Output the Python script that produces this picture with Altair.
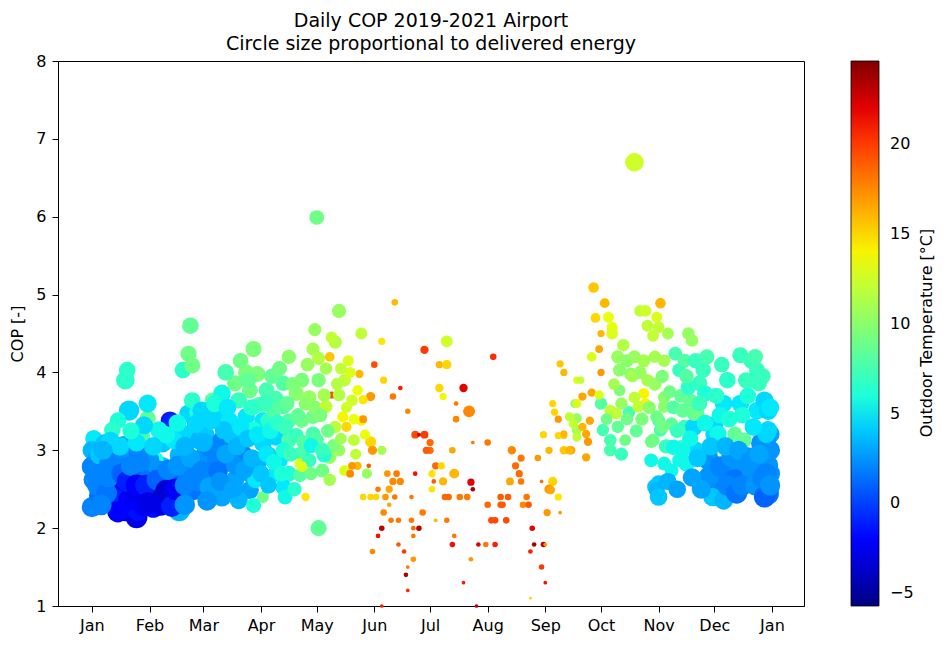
import altair as alt
import pandas as pd

# ---- data: (day of year, COP, outdoor temperature [°C], delivered energy [kWh]) ----
jan_feb = [
    (18, 3.90, 6.5, 40), (19, 4.03, 6.5, 32), (20, 3.51, 4.5, 48), (14, 3.38, 6.0, 32), (30, 3.41, 8.5, 30),
    (27, 3.19, 8.0, 30), (11, 3.26, 6.5, 32), (1, 3.15, 5.0, 34), (7, 3.09, 4.0, 40), (0, 3.00, 3.5, 40),
    (2, 2.87, 3.0, 42), (11, 3.02, 3.0, 42), (0, 2.79, 2.0, 48), (1, 2.62, 2.0, 48), (0, 2.27, 2.0, 48),
    (6, 2.74, 2.0, 48), (15, 2.87, 2.0, 48), (22, 2.91, 2.5, 48), (11, 2.62, -2.0, 52), (16, 2.49, -2.0, 52),
    (11, 2.36, -2.0, 52), (22, 2.70, 1.5, 48), (27, 2.62, 1.0, 48), (31, 2.74, 1.5, 48), (18, 2.23, -3.0, 55),
    (24, 2.14, -3.0, 55), (29, 2.44, -3.5, 55), (34, 2.49, -3.5, 55), (36, 2.40, -5.6, 56), (42, 2.40, -4.0, 55),
    (47, 2.44, -4.0, 55), (33, 2.27, -1.5, 52), (25, 2.23, -1.5, 52), (47, 2.23, 3.5, 55), (42, 3.38, -1.0, 40),
    (38, 3.09, 4.0, 40), (38, 2.79, 4.0, 42), (34, 2.87, 6.0, 34), (49, 3.21, 4.5, 40), (52, 3.47, 4.5, 40),
    (56, 3.30, 4.5, 38), (54, 3.64, 6.5, 32), (49, 4.03, 6.5, 32), (54, 4.09, 9.0, 30), (52, 4.24, 9.0, 30),
    (53, 4.60, 8.5, 32), (60, 2.91, 2.5, 44), (61, 2.66, 2.5, 44), (63, 2.44, 2.5, 44), (65, 3.64, 8.5, 30),
    (4, 2.42, 1.5, 50), (6, 2.55, 1.5, 50), (13, 2.36, -1.0, 52), (20, 2.36, -2.5, 54), (23, 2.49, -3.0, 55),
    (39, 2.55, -2.0, 54), (44, 2.62, 1.0, 50), (52, 2.68, 2.0, 48), (31, 2.87, 2.5, 44), (17, 3.06, 3.0, 42),
    (25, 2.97, 2.0, 44), (4, 2.94, 4.0, 40), (9, 2.81, 2.0, 46), (33, 2.36, -4.5, 56), (28, 2.29, -2.5, 54),
    (14, 2.21, -2.0, 52), (36, 2.74, 2.5, 46), (47, 2.94, 3.5, 42), (58, 3.13, 3.5, 42), (44, 3.13, 5.0, 38),
    (36, 3.26, 5.5, 36), (28, 3.32, 4.5, 38), (58, 2.74, 2.0, 46), (55, 2.49, 1.5, 48),
    (3, 2.55, 2.0, 50), (8, 2.45, 1.5, 50), (5, 2.30, 2.0, 50), (9, 2.65, 2.0, 48), (12, 2.90, 2.0, 46),
    (16, 2.70, 1.0, 50), (19, 2.60, -1.0, 52), (21, 2.80, 2.0, 48), (24, 2.55, -2.0, 54), (26, 2.85, 2.0, 46),
    (29, 2.55, -1.0, 52), (30, 2.32, -3.0, 55), (35, 2.62, 1.0, 50), (37, 2.30, -3.0, 55), (40, 2.48, -3.5, 55),
    (41, 2.75, 2.0, 48), (43, 2.28, -1.0, 52), (45, 2.50, -2.5, 54), (46, 2.80, 2.5, 46), (50, 2.55, 2.0, 48),
    (50, 2.30, 2.5, 48), (53, 2.90, 3.0, 44), (57, 2.60, 2.0, 46), (10, 3.12, 4.5, 40), (15, 3.05, 4.5, 40),
    (24, 3.10, 5.0, 38), (33, 3.05, 4.5, 40), (40, 3.20, 5.5, 36), (46, 3.35, 5.5, 36), (50, 3.05, 3.5, 42),
    (57, 3.48, 6.0, 34), (6, 3.00, 3.5, 42), (21, 3.25, 6.0, 34), (30, 3.60, 5.0, 38), (61, 3.20, 4.0, 40),
    (64, 2.62, 2.0, 44),
]

mar_apr = [
    (63, 3.04, 2.0, 42), (67, 2.87, 2.0, 42), (70, 3.13, 2.0, 42), (59, 2.74, 2.0, 44), (74, 2.87, 2.0, 42),
    (81, 2.96, 2.0, 40), (63, 2.53, 3.0, 42), (70, 2.40, 3.0, 42), (77, 2.62, 3.0, 40), (85, 2.70, 3.0, 38),
    (85, 2.49, 3.0, 38), (70, 3.73, 5.5, 36), (77, 3.86, 9.0, 30), (85, 3.77, 9.0, 30), (94, 3.77, 7.5, 30),
    (99, 3.66, 7.5, 30), (103, 3.86, 8.0, 28), (113, 3.90, 9.5, 26), (110, 3.73, 10.0, 26), (117, 3.68, 10.5, 24),
    (67, 3.43, 4.5, 38), (59, 3.51, 4.5, 38), (56, 3.34, 4.5, 38), (74, 3.38, 5.0, 36), (83, 3.43, 5.0, 36),
    (92, 3.38, 5.0, 34), (81, 3.17, 4.5, 36), (92, 3.09, 4.5, 36), (99, 3.17, 4.5, 34), (106, 3.13, 7.5, 28),
    (113, 2.96, 7.5, 28), (119, 3.21, 7.5, 26), (101, 2.87, 5.0, 32), (106, 2.70, 6.0, 28), (88, 2.62, 5.0, 32),
    (99, 2.70, 5.0, 32), (103, 2.53, 5.0, 30), (104, 2.40, 5.5, 26), (92, 2.40, 9.0, 17), (113, 3.38, 9.0, 24),
    (119, 3.43, 9.0, 24), (106, 3.38, 8.0, 26), (103, 3.56, 8.0, 26), (87, 4.30, 9.5, 30), (83, 4.00, 9.5, 30),
    (89, 3.98, 9.5, 30), (106, 4.20, 10.0, 24), (112, 2.83, 13.0, 14),
    (68, 2.74, 1.5, 44), (77, 2.81, 2.5, 40), (90, 2.87, 3.5, 36), (95, 2.94, 4.0, 34), (79, 2.36, 3.5, 38),
    (87, 2.29, 6.0, 26), (95, 2.55, 4.0, 32), (71, 3.26, 4.0, 38), (87, 3.26, 6.0, 32), (95, 3.38, 6.5, 30),
    (79, 3.64, 7.0, 32), (90, 3.58, 7.5, 30), (103, 3.00, 6.0, 28), (110, 3.19, 7.0, 26), (112, 2.68, 8.0, 22),
    (117, 2.87, 7.0, 24), (98, 3.51, 8.0, 28),
    (60, 3.10, 3.5, 42), (62, 2.35, 2.5, 44), (64, 3.38, 4.5, 38), (66, 3.60, 6.0, 34), (69, 2.60, 2.5, 42),
    (72, 2.95, 3.0, 40), (73, 3.55, 5.0, 36), (75, 3.20, 4.0, 38), (76, 2.50, 3.0, 40), (78, 3.05, 3.5, 38),
    (80, 3.30, 5.0, 36), (82, 2.75, 3.0, 38), (84, 3.15, 4.0, 36), (86, 3.55, 6.5, 32), (86, 2.90, 3.5, 36),
    (89, 3.20, 5.0, 34), (91, 2.70, 4.0, 34), (93, 3.60, 7.0, 30), (94, 2.95, 5.0, 32), (96, 3.25, 5.5, 32),
    (97, 3.95, 8.5, 28), (98, 2.85, 5.5, 30), (100, 3.35, 6.5, 30), (101, 4.05, 9.0, 26), (102, 2.70, 6.0, 28),
    (104, 3.30, 7.0, 28), (105, 3.60, 8.5, 26), (107, 2.95, 7.0, 26), (108, 3.85, 9.5, 24), (109, 2.50, 6.5, 24),
    (111, 3.45, 8.5, 24), (114, 3.10, 8.0, 24), (115, 3.60, 10.0, 22), (116, 4.10, 10.5, 22), (118, 2.70, 9.0, 20),
    (120, 3.55, 10.0, 22), (84, 3.90, 8.5, 30), (80, 4.15, 9.0, 28), (72, 4.00, 7.5, 32),
]

may = [
    (121, 5.99, 9.0, 25), (133, 4.79, 10.5, 23), (119, 4.30, 11.0, 20), (122, 4.18, 11.5, 20), (131, 4.39, 11.5, 20),
    (128, 4.20, 15.5, 11), (129, 3.71, 19.5, 6), (135, 3.43, 14.0, 14), (126, 3.56, 12.0, 20), (131, 3.30, 12.0, 18),
    (128, 2.91, 10.5, 20), (133, 3.00, 10.5, 18), (137, 3.30, 15.0, 12), (115, 2.40, 14.5, 8), (122, 2.00, 8.5, 30),
    (113, 2.79, 13.0, 14), (122, 3.90, 9.5, 24), (125, 3.71, 11.0, 20), (121, 3.13, 8.0, 24), (124, 2.74, 9.0, 22),
    (128, 2.62, 11.0, 18), (136, 2.74, 13.0, 14), (140, 3.64, 12.5, 16), (136, 3.90, 12.0, 18), (138, 4.15, 13.0, 14),
    (143, 3.77, 13.5, 13), (141, 3.13, 12.0, 16), (145, 3.38, 14.0, 12), (139, 2.70, 17.5, 7), (143, 2.80, 16.0, 8),
    (140, 2.80, 17.0, 7), (149, 2.80, 19.0, 2.5), (148, 2.70, 10.5, 12), (145, 4.50, 12.0, 16), (144, 3.98, 16.0, 8),
    (150, 3.69, 17.0, 10), (146, 3.40, 17.0, 7), (150, 3.11, 15.0, 14), (151, 3.00, 17.0, 10), (156, 3.00, 11.0, 10),
    (133, 3.71, 11.5, 18), (130, 3.06, 9.5, 20), (125, 2.94, 6.0, 26), (118, 3.06, 5.5, 26),
    (123, 3.45, 9.5, 22), (126, 4.05, 11.0, 18), (127, 3.25, 9.0, 22), (129, 4.45, 12.0, 16), (132, 3.85, 11.5, 18),
    (134, 3.15, 11.0, 16), (137, 3.55, 12.5, 14), (139, 4.00, 13.0, 14), (141, 3.40, 13.5, 13), (142, 2.95, 12.0, 14),
    (146, 3.65, 14.5, 10), (147, 3.20, 13.5, 12), (134, 4.05, 12.0, 16), (120, 4.55, 10.5, 20), (124, 3.00, 7.0, 26),
]

summer = [
    (152, 4.10, 19.5, 5), (156, 4.40, 14.5, 6), (163, 4.90, 16.0, 5), (179, 4.29, 20.0, 8), (191, 4.40, 12.5, 16),
    (216, 4.20, 20.5, 5), (187, 4.10, 16.0, 6), (191, 4.10, 15.0, 10), (157, 3.90, 15.0, 6), (166, 3.80, 21.0, 2.5),
    (187, 3.80, 15.0, 8), (189, 3.69, 14.0, 6), (200, 3.80, 22.0, 8), (162, 3.69, 18.0, 5), (203, 3.50, 17.5, 16),
    (196, 3.60, 18.0, 2.5), (170, 3.50, 17.5, 3.5), (196, 3.40, 17.5, 5), (174, 3.20, 19.5, 7), (179, 3.20, 20.0, 7),
    (176, 3.20, 22.5, 2), (182, 3.10, 18.5, 6), (182, 3.00, 18.5, 6), (180, 3.00, 19.0, 6), (194, 3.00, 16.5, 5),
    (205, 3.10, 18.0, 1.6), (213, 3.10, 18.0, 5), (226, 3.00, 17.5, 8), (231, 2.90, 18.0, 6), (240, 2.90, 17.0, 5),
    (228, 2.80, 18.5, 6), (230, 2.70, 18.5, 6), (231, 2.60, 18.0, 5), (225, 2.60, 16.5, 7), (185, 2.80, 18.5, 6),
    (188, 2.80, 15.0, 6), (195, 2.70, 16.0, 11), (189, 2.60, 16.0, 8), (183, 2.70, 14.5, 6), (183, 2.50, 14.5, 5),
    (184, 2.60, 19.0, 2.5), (174, 2.70, 21.5, 2.5), (159, 2.70, 17.0, 5), (164, 2.70, 18.0, 5), (162, 2.60, 17.5, 6),
    (166, 2.60, 17.5, 6), (154, 2.50, 18.0, 3.5), (160, 2.50, 16.5, 6), (146, 2.40, 15.0, 5), (150, 2.40, 15.0, 5),
    (153, 2.40, 15.0, 5), (158, 2.40, 17.0, 5), (163, 2.40, 18.0, 3.5), (172, 2.40, 18.0, 2.5), (190, 2.40, 18.5, 5),
    (192, 2.40, 18.5, 5), (198, 2.40, 18.0, 5), (202, 2.40, 18.0, 5), (204, 2.59, 22.0, 6), (205, 2.50, 23.5, 2.5),
    (220, 2.40, 19.0, 5), (224, 2.40, 19.0, 5), (213, 2.30, 18.5, 5), (220, 2.30, 19.0, 5), (221, 2.30, 19.0, 5),
    (234, 2.40, 18.0, 5), (232, 2.30, 17.5, 5), (235, 2.30, 19.0, 5), (160, 2.30, 16.5, 2.5), (157, 2.20, 17.5, 5),
    (178, 2.20, 18.0, 5), (161, 2.10, 18.0, 3.5), (165, 2.10, 18.0, 3.5), (172, 2.10, 18.0, 3.5), (185, 2.10, 16.0, 1.6),
    (191, 2.10, 18.0, 3.5), (215, 2.10, 19.5, 5), (217, 2.10, 19.5, 5), (223, 2.10, 19.5, 5), (156, 2.00, 23.0, 3.5),
    (154, 1.90, 21.5, 2.5), (176, 2.00, 23.0, 3.5), (173, 2.00, 18.5, 2.5), (173, 1.90, 18.0, 2.5), (165, 1.79, 19.0, 2.5),
    (168, 1.70, 20.0, 2.5), (151, 1.70, 17.5, 3.5), (173, 1.60, 17.0, 3.5), (170, 1.50, 18.0, 1.6), (169, 1.40, 23.5, 2.5),
    (170, 1.20, 20.5, 1.6), (195, 1.90, 18.0, 2.5), (194, 1.79, 21.5, 3.5), (208, 1.79, 22.0, 2.5), (212, 1.79, 18.0, 3.5),
    (217, 1.79, 21.0, 3.5), (204, 1.60, 17.0, 2.5), (200, 1.30, 21.0, 1.6), (207, 1.00, 23.0, 1.6), (156, 1.00, 21.0, 1.6),
    (237, 2.00, 22.0, 3.5), (238, 1.79, 23.5, 2.5), (243, 1.79, 23.0, 3.5), (244, 1.79, 17.0, 1.6), (236, 1.70, 21.0, 2.5),
    (242, 1.50, 20.0, 3.5), (244, 1.30, 21.5, 1.6), (236, 1.10, 15.0, 0.9),
]

sep = [
    (245, 2.20, 17.0, 6), (246, 3.00, 16.0, 6), (243, 3.20, 15.0, 6), (248, 3.60, 15.0, 6), (249, 3.49, 15.0, 6),
    (248, 2.60, 15.0, 10), (246, 2.50, 17.0, 10), (242, 2.60, 18.0, 1.6), (251, 2.40, 14.5, 6), (252, 2.20, 17.0, 1.6),
    (252, 4.11, 15.5, 6), (254, 4.00, 16.0, 6), (261, 3.90, 13.0, 6), (251, 3.40, 17.0, 6), (251, 3.19, 15.0, 6),
    (254, 3.19, 15.0, 6), (254, 3.00, 15.5, 8), (258, 3.00, 16.5, 8), (260, 3.60, 10.0, 10), (261, 3.41, 10.5, 12),
    (261, 3.26, 11.0, 12), (264, 3.69, 16.5, 8), (269, 3.74, 16.5, 8), (261, 3.60, 13.0, 10), (257, 3.43, 12.0, 10),
    (259, 3.34, 12.0, 10), (264, 3.30, 16.0, 8), (268, 3.38, 16.5, 8), (266, 3.21, 16.5, 8), (267, 3.11, 17.0, 8),
    (261, 3.17, 12.0, 10), (254, 3.21, 16.0, 6), (257, 3.00, 16.0, 8), (266, 2.91, 16.5, 8), (247, 2.49, 16.5, 8),
    (263, 3.90, 12.0, 6), (274, 3.60, 8.0, 18),
]

octo = [
    (292, 6.70, 12.5, 40), (270, 5.09, 15.5, 13), (276, 4.89, 16.0, 11), (306, 4.89, 16.0, 13), (271, 4.70, 15.0, 11),
    (278, 4.71, 13.5, 14), (280, 4.58, 13.5, 14), (274, 4.50, 16.0, 6), (280, 4.50, 13.0, 16), (295, 4.79, 12.0, 16),
    (298, 4.79, 12.5, 16), (299, 4.60, 12.0, 16), (302, 4.47, 12.0, 16), (304, 4.71, 13.0, 14), (310, 4.50, 11.0, 16),
    (321, 4.50, 10.5, 18), (323, 4.41, 10.5, 18), (273, 4.30, 16.5, 7), (269, 4.20, 13.0, 11), (274, 4.00, 17.0, 6),
    (283, 4.20, 10.5, 20), (288, 4.15, 10.0, 20), (292, 4.20, 10.5, 20), (297, 4.15, 11.0, 20), (284, 4.03, 10.0, 20),
    (290, 3.98, 10.0, 20), (303, 4.20, 11.0, 18), (308, 4.15, 11.0, 18), (314, 4.24, 7.5, 22), (316, 4.03, 7.0, 22),
    (279, 3.51, 12.0, 16), (282, 3.47, 12.0, 16), (289, 3.49, 7.5, 18), (297, 3.73, 14.0, 14), (298, 3.60, 14.0, 14),
    (292, 3.68, 12.0, 16), (294, 3.56, 12.0, 16), (308, 3.68, 10.0, 18), (308, 3.56, 10.0, 18), (305, 3.38, 8.0, 20),
    (306, 3.26, 7.5, 20), (312, 3.34, 8.5, 20), (275, 3.26, 7.5, 18), (279, 3.13, 7.5, 18), (279, 3.00, 7.5, 18),
    (301, 3.11, 9.0, 18), (301, 2.87, 5.5, 22), (308, 2.83, 5.5, 22), (312, 2.74, 5.5, 22), (316, 2.87, 5.5, 22),
    (303, 2.53, 4.0, 28), (305, 2.58, 4.0, 28), (304, 2.49, 3.5, 30), (284, 3.77, 9.5, 16), (273, 3.71, 13.0, 10),
    (287, 3.13, 9.0, 16),
    (277, 3.40, 9.0, 16), (281, 3.85, 11.0, 16), (283, 3.30, 8.5, 18), (285, 3.60, 10.5, 18), (286, 4.35, 11.5, 18),
    (288, 3.40, 9.0, 18), (291, 3.95, 11.0, 18), (293, 3.25, 8.5, 20), (295, 4.00, 10.5, 20), (296, 3.40, 9.5, 20),
    (299, 3.90, 11.0, 18), (300, 3.55, 10.0, 20), (303, 3.85, 10.5, 20), (307, 3.95, 9.5, 20), (309, 3.05, 7.0, 24),
    (311, 3.75, 9.0, 20), (313, 3.55, 8.0, 22), (315, 3.25, 7.0, 24), (317, 3.70, 8.5, 22), (319, 4.15, 8.0, 22),
    (310, 2.60, 3.5, 34), (315, 2.50, 3.0, 36), (319, 3.30, 7.0, 24), (285, 2.95, 7.0, 20),
]

nov_dec = [
    (317, 3.04, 6.5, 24), (325, 3.00, 4.5, 36), (332, 2.96, 4.5, 38), (335, 3.21, 4.5, 38), (332, 2.87, 2.5, 48),
    (337, 2.74, 2.5, 48), (334, 2.57, 2.0, 50), (332, 2.66, 2.5, 48), (345, 2.87, 2.5, 46), (346, 2.57, 2.0, 50),
    (343, 2.70, 2.5, 48), (352, 2.70, 2.5, 48), (363, 2.57, 2.0, 50), (364, 2.44, 1.5, 52), (364, 3.21, 3.0, 42),
    (365, 3.21, 3.0, 42), (363, 3.13, 2.5, 44), (334, 2.40, 4.0, 40), (365, 2.70, 2.5, 46), (364, 2.81, 2.5, 46),
    (338, 2.79, 2.0, 50), (346, 2.62, 1.5, 52), (344, 2.91, 2.5, 46), (353, 2.91, 2.5, 46), (355, 2.74, 2.5, 48),
    (360, 3.09, 2.5, 44), (363, 2.70, 2.0, 50), (364, 2.49, 1.5, 52), (365, 3.00, 2.5, 46), (340, 2.36, 3.5, 42),
    (324, 3.30, 4.5, 36), (335, 3.32, 4.5, 36), (305, 2.40, 4.0, 36), (349, 4.22, 7.0, 30), (355, 4.15, 7.0, 30),
    (358, 4.03, 7.0, 30), (342, 3.90, 6.5, 32), (356, 3.90, 6.5, 32), (340, 3.60, 5.0, 36), (349, 3.60, 5.0, 36),
    (358, 3.51, 5.0, 36), (325, 4.15, 7.0, 28), (329, 4.03, 7.0, 28), (327, 3.86, 7.0, 28), (305, 4.58, 12.0, 16),
    (318, 3.51, 8.5, 24), (322, 3.64, 8.5, 24), (324, 3.47, 8.5, 24), (304, 3.43, 9.0, 20), (307, 3.30, 9.0, 20),
    (302, 3.13, 9.0, 20), (313, 3.04, 5.5, 28), (318, 3.00, 5.5, 28), (320, 2.83, 5.5, 30), (346, 3.21, 8.5, 26),
    (351, 3.13, 8.5, 26), (362, 3.64, 4.5, 38), (352, 3.90, 7.0, 30), (359, 3.86, 7.0, 30), (321, 3.81, 6.5, 28),
    (330, 3.73, 6.0, 30), (326, 3.47, 9.0, 22), (337, 3.21, 5.5, 34), (363, 3.21, 4.5, 38), (364, 3.26, 4.5, 38),
    (364, 3.51, 4.5, 40),
    (320, 3.95, 8.0, 24), (322, 3.15, 5.5, 30), (323, 2.65, 3.0, 40), (326, 2.90, 4.0, 38), (327, 3.60, 7.0, 28),
    (328, 2.50, 3.0, 42), (330, 3.35, 5.5, 32), (331, 4.20, 7.5, 26), (333, 3.05, 4.0, 38), (336, 3.70, 6.5, 30),
    (338, 3.45, 5.5, 32), (339, 4.10, 7.0, 28), (341, 3.05, 3.5, 40), (342, 2.55, 2.0, 50), (343, 3.40, 6.0, 32),
    (347, 2.45, 1.5, 52), (348, 3.00, 3.0, 42), (350, 3.45, 6.0, 32), (350, 2.55, 2.0, 50), (353, 3.70, 6.0, 32),
    (354, 2.85, 2.5, 46), (356, 3.30, 5.0, 36), (357, 2.55, 2.5, 48), (357, 4.20, 7.5, 28), (359, 2.95, 3.0, 44),
    (361, 2.65, 2.0, 50), (361, 3.95, 7.0, 30), (362, 2.40, 1.0, 52), (365, 2.55, 2.5, 48), (365, 3.55, 5.0, 38),
]

month_starts = [0, 31, 60, 91, 121, 152, 182, 213, 244, 274, 305, 335, 366]
month_names = ["Jan", "Feb", "Mar", "Apr", "May", "Jun", "Jul", "Aug", "Sep", "Oct", "Nov", "Dec", "Jan"]
temp_ticks = [-5, 0, 5, 10, 15, 20]

df = pd.DataFrame(jan_feb + mar_apr + may + summer + sep + octo + nov_dec,
                  columns=["day", "cop", "temp", "energy"])

# jet colormap anchors
vmin, vmax = -5.7, 24.6
jet_t = [0, 0.11, 0.125, 0.34, 0.35, 0.375, 0.64, 0.65, 0.66, 0.89, 0.91, 1]
jet_c = ["#000080", "#0000ff", "#0000ff", "#00dbff", "#00e5ff", "#14ffe2",
         "#eeff08", "#f7f500", "#ffec00", "#ff1300", "#e80000", "#800000"]
jet_dom = [vmin + t * (vmax - vmin) for t in jet_t]

W, H = 746, 545
FONT = "DejaVu Sans"

label_expr = "[" + ",".join(f"'{m}'" for m in month_names) + "][indexof([" + \
    ",".join(str(v) for v in month_starts) + "], datum.value)]"

points = alt.Chart(df).mark_circle(opacity=1, strokeWidth=0).encode(
    x=alt.X("day:Q",
            scale=alt.Scale(domain=[-18.25, 383.25], nice=False, zero=False),
            axis=alt.Axis(values=month_starts, labelExpr=label_expr, title=None,
                          labelFontSize=16, tickSize=6, labelPadding=5, grid=False)),
    y=alt.Y("cop:Q",
            scale=alt.Scale(domain=[1, 8], nice=False, zero=False),
            axis=alt.Axis(values=[1, 2, 3, 4, 5, 6, 7, 8], title="COP [-]",
                          labelFontSize=16, titleFontSize=16, titleFontWeight="normal",
                          tickSize=6, labelPadding=6, titlePadding=10, grid=False)),
    color=alt.Color("temp:Q",
                    scale=alt.Scale(type="linear", domain=jet_dom, range=jet_c, interpolate="rgb"),
                    legend=alt.Legend(orient="none", legendX=793, legendY=0, direction="vertical",
                                      gradientLength=H, gradientThickness=28, title=None,
                                      values=temp_ticks, labelFontSize=16, labelColor="black",
                                      labelFont=FONT, labelOffset=11, labelOverlap=False,
                                      gradientStrokeColor="black", gradientStrokeWidth=0.8)),
    size=alt.Size("energy:Q", scale=alt.Scale(domain=[0, 60], range=[0, 520]), legend=None),
)

cbar_title = alt.Chart(pd.DataFrame({"t": ["Outdoor Temperature [°C]"]})).mark_text(
    angle=270, fontSize=16, font=FONT, color="black", align="center", baseline="middle"
).encode(x=alt.value(869), y=alt.value(272), text="t:N")

chart = alt.layer(points, cbar_title).properties(
    width=W, height=H,
    title=alt.TitleParams(["Daily COP 2019-2021 Airport", "Circle size proportional to delivered energy"],
                          fontSize=19, font=FONT, fontWeight="normal", color="black",
                          anchor="middle", frame="group", offset=-1, lineHeight=23),
    padding={"left": 50, "top": 53, "right": 138, "bottom": 30},
    autosize=alt.AutoSizeParams(type="none"),
).configure(font=FONT).configure_view(
    stroke="black", strokeWidth=1
).configure_axis(
    domainColor="black", tickColor="black", labelColor="black", titleColor="black",
    domainWidth=1, tickWidth=1, labelFont=FONT, titleFont=FONT
)

chart.save("out.html", embed_options={"renderer": "svg", "actions": False})
